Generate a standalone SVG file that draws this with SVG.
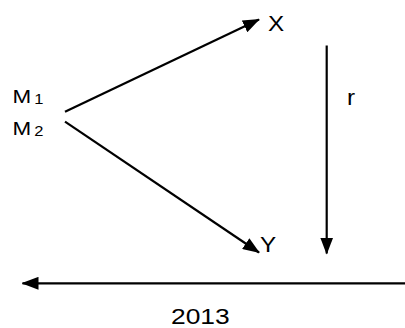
<svg xmlns="http://www.w3.org/2000/svg" width="405" height="328" viewBox="0 0 405 328">
<style>
text{font-family:"Liberation Sans",Arial,sans-serif;fill:#000}
.l{stroke:#000;stroke-width:2.2;fill:none}
.big{font-size:22px}
.m{font-size:19px}
.s{font-size:14px}
</style>
<defs>
<marker id="ah2" markerWidth="17" markerHeight="13" refX="16" refY="6.5" orient="auto" markerUnits="userSpaceOnUse" viewBox="0 0 17 13">
<path d="M0,0 L17,6.5 L0,13 Z" fill="#000"/>
</marker>
</defs>
<g id="connectors">
<line class="l" x1="65" y1="111.7" x2="259" y2="19.5" marker-end="url(#ah2)"/>
<line class="l" x1="65" y1="121.7" x2="259" y2="252.5" marker-end="url(#ah2)"/>
<line class="l" x1="326.7" y1="45.5" x2="326.7" y2="253.5" marker-end="url(#ah2)"/>
<line class="l" x1="405" y1="283.3" x2="22.5" y2="283.3" marker-end="url(#ah2)"/>
</g>
<g id="M1"><text class="m" x="12.5" y="103.5" transform="translate(12.5 0) scale(1.18 1) translate(-12.5 0)">M<tspan class="s" x="31" dy="1">1</tspan></text></g>
<g id="M2"><text class="m" x="12.5" y="135.5" transform="translate(12.5 0) scale(1.18 1) translate(-12.5 0)">M<tspan class="s" x="31" dy="1">2</tspan></text></g>
<g id="X"><text class="big" x="268" y="31" transform="translate(268 0) scale(1.1 1) translate(-268 0)">X</text></g>
<g id="Y"><text class="big" x="260" y="252" transform="translate(260 0) scale(1.1 1) translate(-260 0)">Y</text></g>
<g id="r"><text class="big" x="347" y="105" transform="translate(347 0) scale(1.1 1) translate(-347 0)">r</text></g>
<g id="year"><text class="big" x="171" y="324" transform="translate(171 0) scale(1.2 1) translate(-171 0)">2013</text></g>
</svg>
